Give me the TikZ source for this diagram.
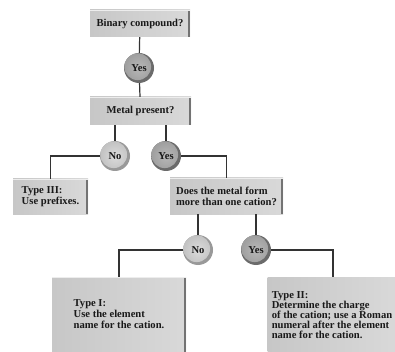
\documentclass[tikz,border=0pt]{standalone}
\usepackage{fontspec}
\setmainfont{Liberation Serif}
\begin{document}
\begin{tikzpicture}[x=1pt,y=-1pt,
    box/.style={rectangle, inner sep=0pt, align=left, text=black!90,
      font=\bfseries\fontsize{10.6}{11}\selectfont,
      left color=black!22, right color=black!15},
    bevel/.style={path picture={
      \fill[black!55] ([xshift=-2.5pt]path picture bounding box.north east) rectangle (path picture bounding box.south east);
      \fill[black!7] (path picture bounding box.north west) rectangle ([yshift=-1.2pt]path picture bounding box.north east);}},
    coin/.style n args={3}{circle, minimum size=30pt, inner sep=0pt, fill=#1,
      font=\bfseries\fontsize{10.6}{12}\selectfont, text=black!90,
      path picture={\shade[inner color=#2, outer color=#3]
        ([xshift=-1.3pt,yshift=1.3pt]path picture bounding box.center) circle[radius=13.4pt];}},
    no/.style={coin={black!40}{black!14}{black!24}},
    yes/.style={coin={black!58}{black!28}{black!38}},
    link/.style={draw=black!80, line width=1.2pt}]

  \fill[white] (0,0) rectangle (395,352);
  \useasboundingbox (0,0) rectangle (395,352);

  \node[box, bevel, minimum width=100pt, minimum height=27pt] (bin) at (140,23.5) {Binary compound?};
  \node[yes] (yes1) at (139,68) {Yes};
  \node[box, bevel, minimum width=101pt, minimum height=28pt] (metal) at (140.5,111) {Metal present?};
  \node[no] (no1) at (115,156) {No};
  \node[yes] (yes2) at (166,156) {Yes};

  \node[box, bevel, minimum width=75pt, minimum height=35pt] (type3) at (50.5,196.5) {Type III:\\Use prefixes.};
  \node[box, bevel, minimum width=113pt, minimum height=36pt] (cation) at (226.5,196) {Does the metal form\\more than one cation?};
  \node[no] (no2) at (198,250) {No};
  \node[yes] (yes3) at (256,250) {Yes};

  \node[box, bevel, minimum width=134pt, minimum height=75pt] (type1) at (119,314.5) {Type I:\\Use the element\\name for the cation.};
  \node[box, minimum width=129pt, minimum height=76pt,
    font=\bfseries\fontsize{10.6}{10}\selectfont] (type2) at (332,315) {Type II:\\Determine the charge\\of the cation; use a Roman\\numeral after the element\\name for the cation.};

  \draw[link] (bin) -- (yes1);
  \draw[link] (yes1) -- (metal);
  \draw[link] (no1.north |- metal.south) -- (no1);
  \draw[link] (yes2.north |- metal.south) -- (yes2);
  \draw[link] (no1.west) -| (type3.north);
  \draw[link] (yes2.east) -| (cation.north);
  \draw[link] (no2.north |- cation.south) -- (no2);
  \draw[link] (yes3.north |- cation.south) -- (yes3);
  \draw[link] (no2.west) -| (type1.north);
  \draw[link] (yes3.east) -| ([xshift=1pt]type2.north);
\end{tikzpicture}
\end{document}
